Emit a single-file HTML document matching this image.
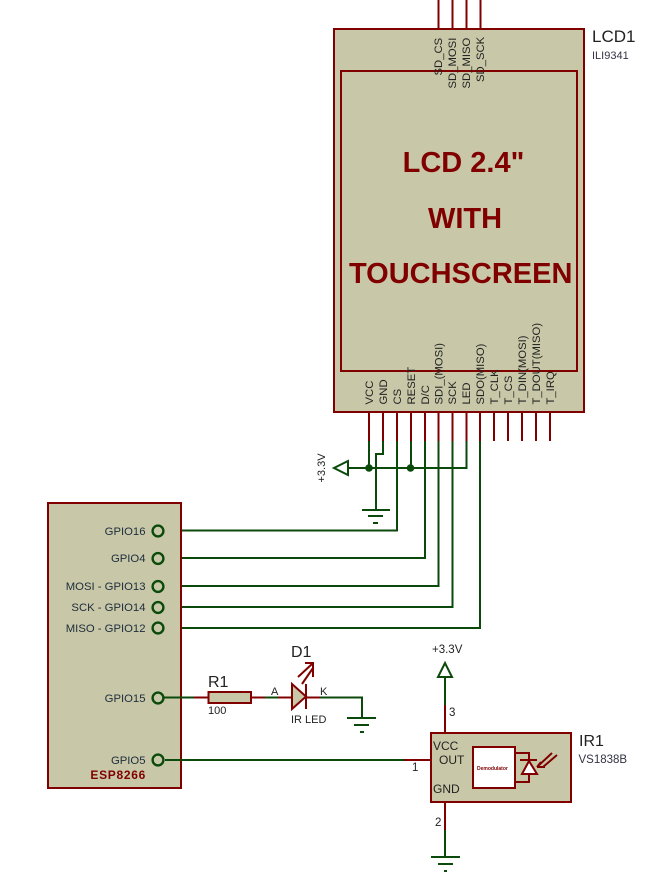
<!DOCTYPE html>
<html>
<head>
<meta charset="utf-8">
<style>
html,body{margin:0;padding:0;background:#fff;width:650px;height:880px;overflow:hidden}
svg{display:block}
text{font-family:"Liberation Sans",sans-serif;fill:#222}
.r{stroke:#800000;stroke-width:2;fill:none}
.g{stroke:#0b4a0b;stroke-width:2;fill:none}
.b{fill:#c8c8a8;stroke:#800000;stroke-width:2}
.p{font-size:11.3px;fill:#222}
.l{font-size:11.3px;fill:#1c2c3c;text-anchor:end}
.t{font-size:29px;font-weight:bold;fill:#800000;text-anchor:middle}
</style>
</head>
<body>
<svg width="650" height="880" viewBox="0 0 650 880" xmlns="http://www.w3.org/2000/svg">
<!-- LCD -->
<rect class="b" x="334" y="29" width="250" height="383"/>
<rect class="b" x="341" y="71" width="236" height="300"/>
<path class="r" d="M438.5 0V29M452.5 0V29M466.5 0V29M480.5 0V29"/>
<text class="p" transform="translate(442,75.500) rotate(-90)">SD_CS</text>
<text class="p" transform="translate(456,88.500) rotate(-90)">SD_MOSI</text>
<text class="p" transform="translate(470,88.500) rotate(-90)">SD_MISO</text>
<text class="p" transform="translate(484,82) rotate(-90)">SD_SCK</text>
<text x="592" y="42" style="font-size:17px">LCD1</text>
<text x="592" y="59" style="font-size:11px;fill:#334">ILI9341</text>
<text class="t" x="463.5" y="172">LCD 2.4"</text>
<text class="t" x="465" y="228">WITH</text>
<text class="t" x="460.7" y="283">TOUCHSCREEN</text>
<!-- LCD bottom labels -->
<text class="p" transform="translate(373,404.500) rotate(-90)">VCC</text>
<text class="p" transform="translate(387,404.500) rotate(-90)">GND</text>
<text class="p" transform="translate(401,404.500) rotate(-90)">CS</text>
<text class="p" transform="translate(415,404.500) rotate(-90)">RESET</text>
<text class="p" transform="translate(429,404.500) rotate(-90)">D/C</text>
<text class="p" transform="translate(442.5,404.500) rotate(-90)">SDI_(MOSI)</text>
<text class="p" transform="translate(456,404.500) rotate(-90)">SCK</text>
<text class="p" transform="translate(470,404.500) rotate(-90)">LED</text>
<text class="p" transform="translate(484,404.500) rotate(-90)">SDO(MISO)</text>
<text class="p" transform="translate(498,404.500) rotate(-90)">T_CLK</text>
<text class="p" transform="translate(512,404.500) rotate(-90)">T_CS</text>
<text class="p" transform="translate(526,404.500) rotate(-90)">T_DIN(MOSI)</text>
<text class="p" transform="translate(540,404.500) rotate(-90)">T_DOUT(MISO)</text>
<text class="p" transform="translate(554,404.500) rotate(-90)">T_IRQ</text>
<!-- LCD bottom pins -->
<path class="r" d="M369 412V441M383 412V441M397 412V441M411 412V441M425 412V441M438.5 412V441M452.5 412V441M466.5 412V441M480 412V441M494 412V441M508 412V441M522 412V441M536 412V441M550 412V441"/>
<!-- wires -->
<path class="g" d="M369 441V468M411 441V468M466.5 441V468H348"/>
<path class="g" d="M383 441V454H376V510"/>
<path class="g" d="M397 441V530.5H165"/>
<path class="g" d="M425 441V558H165"/>
<path class="g" d="M438.5 441V586H165"/>
<path class="g" d="M452.5 441V607H165"/>
<path class="g" d="M480 441V628H165"/>
<circle cx="369" cy="468" r="3.8" fill="#0b4a0b"/>
<circle cx="410.5" cy="468" r="3.8" fill="#0b4a0b"/>
<path class="g" d="M348 461V475L334 468Z"/>
<text transform="translate(325,482.500) rotate(-90)" style="font-size:11px">+3.3V</text>
<!-- GND LCD -->
<path class="g" d="M362 510H390M368 516H383M373 523H378"/>
<!-- ESP -->
<rect class="b" x="48" y="503" width="133" height="285"/>
<g fill="#c8c8a8" stroke="#0b4a0b" stroke-width="2.4">
<circle cx="158" cy="531" r="5.4"/>
<circle cx="158" cy="558.5" r="5.4"/>
<circle cx="158" cy="586.5" r="5.4"/>
<circle cx="158" cy="607.5" r="5.4"/>
<circle cx="158" cy="628" r="5.4"/>
<circle cx="158" cy="698" r="5.4"/>
<circle cx="158" cy="760" r="5.4"/>
</g>
<text class="l" x="145.500" y="535">GPIO16</text>
<text class="l" x="145.500" y="562">GPIO4</text>
<text class="l" x="145.500" y="590">MOSI - GPIO13</text>
<text class="l" x="145.500" y="611">SCK - GPIO14</text>
<text class="l" x="145.500" y="632">MISO - GPIO12</text>
<text class="l" x="145.500" y="702">GPIO15</text>
<text class="l" x="145.500" y="764">GPIO5</text>
<text x="146" y="779" style="font-size:12px;font-weight:bold;fill:#800000;text-anchor:end;letter-spacing:.7px">ESP8266</text>
<!-- R1 -->
<path class="g" d="M164 697.5H194"/>
<path class="r" d="M194 697.5H208M251 697.5H265"/>
<rect class="b" x="208.500" y="692" width="42.500" height="11"/>
<text x="208" y="687" style="font-size:16px">R1</text>
<text x="208" y="714" style="font-size:11px">100</text>
<path class="g" d="M265 697.5H278"/>
<path class="r" d="M278 697.5H292M306 697.5H320"/>
<text x="271" y="695" style="font-size:11px">A</text>
<text x="320" y="695" style="font-size:11px">K</text>
<!-- LED -->
<path d="M292 684L306 696.500L292 709Z" fill="#c8c8a8" stroke="#800000" stroke-width="2"/>
<path class="r" d="M306 684V709"/>
<path class="r" d="M305 663H313V677M298 677L312 664M302 684L313 668"/>
<text x="291" y="657" style="font-size:16px">D1</text>
<text x="291" y="723" style="font-size:11px">IR LED</text>
<path class="g" d="M320 697.5H362V718"/>
<path class="g" d="M347 718H376M354 725H369M360 732H364"/>
<!-- IR1 -->
<path class="g" d="M165 760H404"/>
<path class="r" d="M404 760H431"/>
<rect class="b" x="431" y="733" width="140" height="69"/>
<path class="r" d="M445 705V733M445 802V830"/>
<path class="g" d="M445 705V677M445 830V857"/>
<path class="g" d="M438 677H452L445 663Z"/>
<text x="432" y="653" style="font-size:11.500px">+3.3V</text>
<path class="g" d="M431 857H460M438 864H453M444 871H447"/>
<text x="449" y="716" style="font-size:11.500px">3</text>
<text x="435" y="826" style="font-size:11.500px">2</text>
<text x="412" y="771" style="font-size:11.500px">1</text>
<text x="433" y="750" style="font-size:12px">VCC</text>
<text x="439" y="764" style="font-size:12px">OUT</text>
<text x="433" y="793" style="font-size:12px">GND</text>
<rect x="473" y="747" width="42" height="41" fill="#fff" stroke="#800000" stroke-width="2"/>
<text x="477" y="770" style="font-size:5px;fill:#800000;font-weight:bold">Demodulator</text>
<path class="r" d="M515 753H529V782H515"/>
<path d="M529 761L537 774H522Z" fill="#fff" stroke="#800000" stroke-width="2"/>
<path class="r" d="M520 760H537"/>
<path class="r" d="M537 767L552 753M543 767L557 755M537 767H545M537 767L541 762"/>
<text x="579" y="746" style="font-size:16px">IR1</text>
<text x="578.500" y="763" style="font-size:11.500px;fill:#334">VS1838B</text>
</svg>
</body>
</html>
